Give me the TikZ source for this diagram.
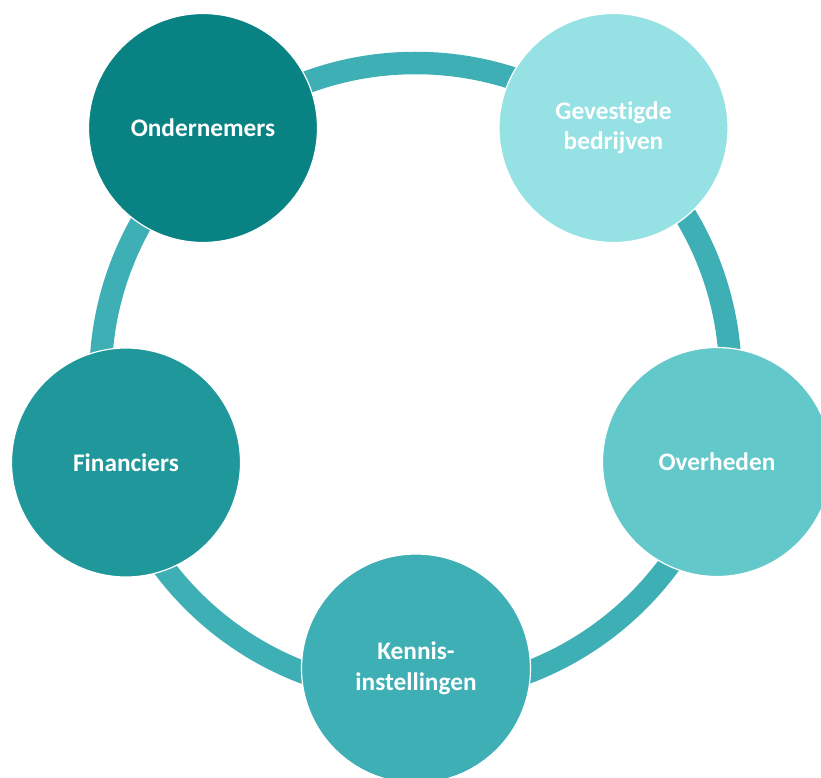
\documentclass[tikz,border=0pt]{standalone}
\usepackage{fontspec}
\setmainfont{Carlito}[RawFeature=-liga]
\usepackage{xcolor}
\usepackage{tikz}

\definecolor{ringteal}{RGB}{62,175,181}
\definecolor{darkteal}{RGB}{9,130,132}
\definecolor{paleteal}{RGB}{150,225,228}
\definecolor{midteal}{RGB}{32,152,155}
\definecolor{softteal}{RGB}{98,200,202}
\definecolor{keyteal}{RGB}{62,175,181}

\begin{document}
\begin{tikzpicture}[
  x = 1pt, y = -1pt,
  party/.style = {
      circle, draw=white, line width=1.2pt, inner sep=0pt,
      minimum size=229pt, text=white, align=center,
      font=\bfseries\fontsize{25.3}{30.5}\selectfont
  },
  ring/.style = {draw=ringteal, line width=22.5pt}
]
  \useasboundingbox (0,0) rectangle (821,778);
  % ring behind the circles
  \coordinate (centre) at (415.5,378);
  \draw[ring] (centre) circle (315);
  % the five parties
  \node[party, fill=darkteal] (ondernemers) at (203,128) {Ondernemers};
  \node[party, fill=paleteal] (gevestigde) at (613.5,128) {Gevestigde\\bedrijven};
  \node[party, fill=softteal] (overheden) at (717,462) {Overheden};
  \node[party, fill=keyteal] (kennis) at (416,668.5) {Kennis-\\instellingen};
  \node[party, fill=midteal] (financiers) at (126,462.5) {Financiers};
\end{tikzpicture}
\end{document}
